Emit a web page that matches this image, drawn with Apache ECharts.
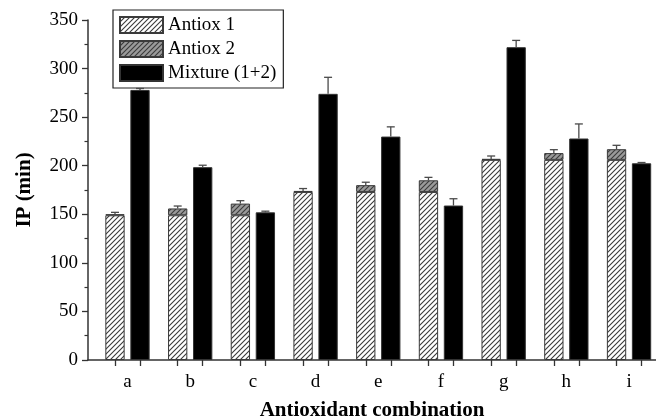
<!DOCTYPE html>
<html>
<head>
<meta charset="utf-8">
<script src="https://cdn.jsdelivr.net/npm/echarts@6/dist/echarts.min.js"></script>
<style>
  html, body { margin: 0; padding: 0; background: #fff; }
  #chart { width: 656px; height: 420px; }
</style>
</head>
<body>
<div id="chart"></div>
<script>
// Induction period (IP) for each antioxidant combination
const categories = ['a', 'b', 'c', 'd', 'e', 'f', 'g', 'h', 'i'];
const antiox1 = [149, 149, 149, 173, 173, 173, 206, 206, 206];
const antiox2 = [1, 7, 12, 1, 7, 12, 1, 7, 11];
const antioxErr = [2, 2.5, 3, 2.5, 3, 3, 3, 3.5, 4];
const mixture = [278, 198.5, 152, 274, 230, 159, 322, 228, 202.5];
const mixtureErr = [1.5, 2, 1.2, 17, 10, 7, 7, 15, 0.8];
const yTicks = { min: 0, max: 350, interval: 50 };

const FONT = '"Liberation Serif", "Times New Roman", serif';

// bar geometry, as fractions of one category slot
const BAR_W = 0.308;
const BAR_GAP = 0.295;
const OFFSET = BAR_W * (1 + BAR_GAP) / 2;

function hatch(bg, line) {
  const s = 5;
  const c = document.createElement('canvas');
  c.width = s; c.height = s;
  const g = c.getContext('2d');
  g.fillStyle = bg;
  g.fillRect(0, 0, s, s);
  g.strokeStyle = line;
  g.lineWidth = 1.1;
  g.beginPath();
  g.moveTo(0, s); g.lineTo(s, 0);
  g.moveTo(-1, 1); g.lineTo(1, -1);
  g.moveTo(s - 1, s + 1); g.lineTo(s + 1, s - 1);
  g.stroke();
  return c;
}

const pos = categories.map((_, i) => i + 1);
// columns: [value, position] so that stacking runs on the value dimension
const rows = (vals) => vals.map((v, i) => [v, pos[i]]);

const stackTop = antiox1.map((v, i) => v + antiox2[i]);
const errStack = pos.map((p, i) => [p - OFFSET, stackTop[i], stackTop[i] + antioxErr[i]]);
const errMix = pos.map((p, i) => [p + OFFSET, mixture[i], mixture[i] + mixtureErr[i]]);

const tickPos = [];
pos.forEach(p => { tickPos.push(p - OFFSET, p + OFFSET); });

function errorBars(params, api) {
  const x = api.value(0);
  const p0 = api.coord([x, api.value(1)]);
  const p1 = api.coord([x, api.value(2)]);
  const cap = 4;
  const st = { stroke: '#4a4a4a', lineWidth: 1.3 };
  return {
    type: 'group',
    children: [
      { type: 'line', shape: { x1: p0[0], y1: p0[1], x2: p1[0], y2: p1[1] }, style: st },
      { type: 'line', shape: { x1: p1[0] - cap, y1: p1[1], x2: p1[0] + cap, y2: p1[1] }, style: st }
    ]
  };
}

const chart = echarts.init(document.getElementById('chart'), null, { renderer: 'canvas' });
chart.setOption({
  animation: false,
  backgroundColor: '#fff',
  textStyle: { fontFamily: FONT, color: '#000' },
  grid: { left: 88, right: 0, top: 20, bottom: 60, containLabel: false, outerBoundsMode: 'none' },
  legend: {
    data: ['Antiox 1', 'Antiox 2', 'Mixture (1+2)'],
    orient: 'vertical',
    left: 113,
    top: 10,
    icon: 'rect',
    itemWidth: 43,
    itemHeight: 16,
    itemGap: 4,
    padding: [5, 7, 5, 6],
    borderColor: '#222',
    borderWidth: 1.2,
    textStyle: { fontFamily: FONT, fontSize: 19, color: '#000', lineHeight: 20 }
  },
  xAxis: {
    type: 'value',
    min: 0.37,
    max: 9.43,
    name: 'Antioxidant combination',
    nameLocation: 'middle',
    nameGap: 40,
    nameTextStyle: { fontFamily: FONT, fontSize: 21, fontWeight: 'bold', color: '#000' },
    axisLine: { onZero: false, lineStyle: { color: '#333', width: 1.5 } },
    axisTick: { show: true, inside: false, length: 6, customValues: tickPos, lineStyle: { color: '#333', width: 1.3 } },
    axisLabel: {
      customValues: pos,
      margin: 13,
      fontFamily: FONT,
      fontSize: 19,
      color: '#000',
      formatter: (v) => categories[Math.round(v) - 1]
    },
    splitLine: { show: false }
  },
  yAxis: {
    type: 'value',
    min: yTicks.min,
    max: yTicks.max,
    interval: yTicks.interval,
    name: 'IP (min)',
    nameLocation: 'middle',
    nameGap: 53,
    nameTextStyle: { fontFamily: FONT, fontSize: 21, fontWeight: 'bold', color: '#000' },
    axisLine: { show: true, onZero: false, lineStyle: { color: '#333', width: 1.5 } },
    axisTick: { show: true, inside: false, length: 6, lineStyle: { color: '#333', width: 1.3 } },
    minorTick: { show: true, splitNumber: 2, length: 3.5, lineStyle: { color: '#333', width: 1.2 } },
    axisLabel: { margin: 10, fontFamily: FONT, fontSize: 19, color: '#000' },
    splitLine: { show: false }
  },
  series: [
    {
      name: 'Antiox 1',
      type: 'bar',
      stack: 'single',
      dimensions: ['val', 'pos'],
      encode: { x: 'pos', y: 'val' },
      data: rows(antiox1),
      barWidth: (BAR_W * 100) + '%',
      barGap: (BAR_GAP * 100) + '%',
      itemStyle: { color: { image: hatch('#ffffff', '#3a3a3a'), repeat: 'repeat' }, borderColor: '#3a3a3a', borderWidth: 1 }
    },
    {
      name: 'Antiox 2',
      type: 'bar',
      stack: 'single',
      dimensions: ['val', 'pos'],
      encode: { x: 'pos', y: 'val' },
      data: rows(antiox2),
      barWidth: (BAR_W * 100) + '%',
      barGap: (BAR_GAP * 100) + '%',
      itemStyle: { color: { image: hatch('#9a9a9a', '#3a3a3a'), repeat: 'repeat' }, borderColor: '#3a3a3a', borderWidth: 1 }
    },
    {
      name: 'Mixture (1+2)',
      type: 'bar',
      dimensions: ['val', 'pos'],
      encode: { x: 'pos', y: 'val' },
      data: rows(mixture),
      barWidth: (BAR_W * 100) + '%',
      barGap: (BAR_GAP * 100) + '%',
      itemStyle: { color: '#000', borderColor: '#333', borderWidth: 1 }
    },
    {
      type: 'custom',
      renderItem: errorBars,
      encode: { x: 0, y: [1, 2] },
      data: errStack,
      z: 5,
      silent: true
    },
    {
      type: 'custom',
      renderItem: errorBars,
      encode: { x: 0, y: [1, 2] },
      data: errMix,
      z: 5,
      silent: true
    }
  ]
});
</script>
</body>
</html>
